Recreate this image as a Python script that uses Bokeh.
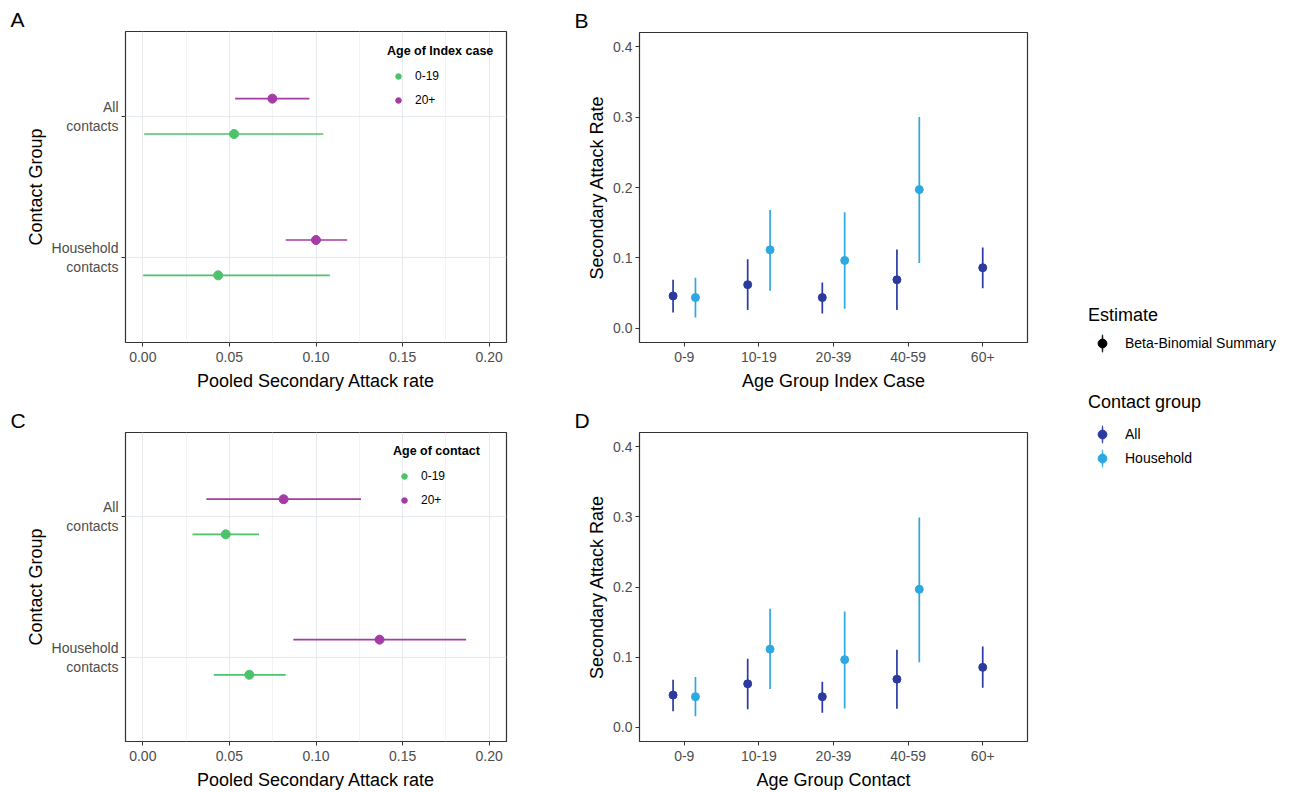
from bokeh.plotting import figure
from bokeh.models import (FactorRange, Range1d, FixedTicker, NumeralTickFormatter,
                          Legend, LegendItem, ColumnDataSource)
from bokeh.layouts import row, column
from bokeh.transform import dodge
from bokeh.embed import file_html
from bokeh.resources import INLINE

# ---------------- data ----------------
contact_groups = ["Household\ncontacts", "All\ncontacts"]          # bottom -> top

# Panel A: pooled SAR by age of index case (order: Household, All)
a_young_mid = [0.0435, 0.0527]
a_young_lo = [0.0002, 0.0008]
a_young_hi = [0.1080, 0.1042]
a_old_mid = [0.1000, 0.0748]
a_old_lo = [0.0825, 0.0533]
a_old_hi = [0.1180, 0.0962]

# Panel C: pooled SAR by age of contact (order: Household, All)
c_young_mid = [0.0615, 0.0479]
c_young_lo = [0.0410, 0.0287]
c_young_hi = [0.0825, 0.0671]
c_old_mid = [0.1367, 0.0813]
c_old_lo = [0.0869, 0.0367]
c_old_hi = [0.1867, 0.1260]

pooled_ticks = [0.0, 0.05, 0.10, 0.15, 0.20]
pooled_minor = [0.025, 0.075, 0.125, 0.175]

# Panels B / D
age_groups = ["0-9", "10-19", "20-39", "40-59", "60+"]
hh_groups = ["0-9", "10-19", "20-39", "40-59"]

b_all_mid = [0.0461, 0.0621, 0.0438, 0.0690, 0.0861]
b_all_lo = [0.0226, 0.0260, 0.0210, 0.0260, 0.0570]
b_all_hi = [0.0690, 0.0980, 0.0650, 0.1120, 0.1150]
b_hh_mid = [0.0438, 0.1115, 0.0965, 0.1970]
b_hh_lo = [0.0155, 0.0536, 0.0280, 0.0927]
b_hh_hi = [0.0720, 0.1680, 0.1650, 0.3000]

d_all_mid = [0.0461, 0.0621, 0.0438, 0.0687, 0.0856]
d_all_lo = [0.0230, 0.0260, 0.0210, 0.0268, 0.0565]
d_all_hi = [0.0680, 0.0980, 0.0650, 0.1106, 0.1153]
d_hh_mid = [0.0438, 0.1115, 0.0965, 0.1967]
d_hh_lo = [0.0160, 0.0546, 0.0270, 0.0927]
d_hh_hi = [0.0720, 0.1690, 0.1650, 0.2988]

sar_ticks = [0.0, 0.1, 0.2, 0.3, 0.4]

# ---------------- style ----------------
FONT = "Liberation Sans"
GREEN = "#4cc36a"
PURPLE = "#a53ca6"
DARK = "#2b3a9f"
LIGHT = "#2ea8e0"
TICKCOL = "#4d4d4d"
FRAME = "#333333"


def style_axis(ax, label, horizontal):
    ax.axis_label = label
    ax.axis_label_text_font = FONT
    ax.axis_label_text_font_size = "18px"
    ax.axis_label_text_font_style = "normal"
    ax.axis_label_text_color = "black"
    ax.axis_label_standoff = 6 if horizontal else 3
    ax.major_label_text_font = FONT
    ax.major_label_text_font_size = "14px"
    ax.major_label_text_color = TICKCOL
    ax.major_label_standoff = 5 if horizontal else 3
    ax.major_tick_in = 0
    ax.major_tick_out = 4
    ax.major_tick_line_color = FRAME
    ax.major_tick_line_width = 1
    ax.minor_tick_line_color = None
    ax.axis_line_color = None


def panel_letter(p, text, offset):
    p.title.text = text
    p.title.text_font = FONT
    p.title.text_font_size = "21px"
    p.title.text_font_style = "normal"
    p.title.text_color = "black"
    p.title.align = "left"
    p.title.offset = offset
    p.title.standoff = 2


def pooled_panel(height, top, bottom, ymid, ylo, yhi, omid, olo, ohi):
    p = figure(width=560, height=height, x_range=Range1d(-0.01, 0.21),
               y_range=FactorRange(factors=contact_groups, range_padding=0.1),
               output_backend="svg", toolbar_location=None,
               min_border_left=125, min_border_right=54,
               min_border_top=top, min_border_bottom=bottom)
    p.outline_line_color = FRAME
    p.outline_line_width = 1.2
    p.xgrid.grid_line_color = "#e6eaed"
    p.xgrid.minor_grid_line_color = "#f1f3f5"
    p.ygrid.grid_line_color = "#e6eaed"
    p.xaxis.ticker = FixedTicker(ticks=pooled_ticks, minor_ticks=pooled_minor)
    p.xaxis.formatter = NumeralTickFormatter(format="0.00")
    style_axis(p.xaxis[0], "Pooled Secondary Attack rate", True)
    style_axis(p.yaxis[0], "Contact Group", False)

    src_y = ColumnDataSource(dict(group=contact_groups, mid=ymid, lo=ylo, hi=yhi))
    src_o = ColumnDataSource(dict(group=contact_groups, mid=omid, lo=olo, hi=ohi))
    yy = dodge("group", -0.125, range=p.y_range)
    yo = dodge("group", 0.125, range=p.y_range)
    p.segment(x0="lo", x1="hi", y0=yy, y1=yy, source=src_y, line_color=GREEN, line_width=1.7)
    ry = p.scatter(x="mid", y=yy, source=src_y, size=9, color=GREEN)
    p.segment(x0="lo", x1="hi", y0=yo, y1=yo, source=src_o, line_color=PURPLE, line_width=1.7)
    ro = p.scatter(x="mid", y=yo, source=src_o, size=9, color=PURPLE)
    return p, ry, ro


def inner_legend(p, ry, ro, title, loc):
    lg = Legend(items=[LegendItem(label="0-19", renderers=[ry]),
                       LegendItem(label="20+", renderers=[ro])],
                title=title, location=loc, orientation="vertical")
    lg.title_text_font = FONT
    lg.title_text_font_style = "bold"
    lg.title_text_font_size = "12.5px"
    lg.title_text_color = "black"
    lg.title_standoff = 8
    lg.label_text_font = FONT
    lg.label_text_font_size = "12px"
    lg.label_text_color = "black"
    lg.glyph_width = 22
    lg.glyph_height = 14
    lg.label_height = 20
    lg.label_standoff = 6
    lg.spacing = 4
    lg.padding = 0
    lg.margin = 0
    lg.background_fill_alpha = 0
    lg.border_line_color = None
    p.add_layout(lg)


pa, ra_y, ra_o = pooled_panel(400, 31, 58, a_young_mid, a_young_lo, a_young_hi,
                              a_old_mid, a_old_lo, a_old_hi)
inner_legend(pa, ra_y, ra_o, "Age of Index case", (262, 232))
panel_letter(pa, "A", -115)

pc, rc_y, rc_o = pooled_panel(392, 32, 50, c_young_mid, c_young_lo, c_young_hi,
                              c_old_mid, c_old_lo, c_old_hi)
inner_legend(pc, rc_y, rc_o, "Age of contact", (268, 231))
panel_letter(pc, "C", -115)


def sar_panel(height, top, bottom, amid, alo, ahi, hmid, hlo, hhi, xlabel):
    p = figure(width=525, height=height,
               x_range=FactorRange(factors=age_groups, range_padding=0.04),
               y_range=Range1d(-0.02, 0.42),
               output_backend="svg", toolbar_location=None,
               min_border_left=79, min_border_right=58,
               min_border_top=top, min_border_bottom=bottom)
    p.outline_line_color = FRAME
    p.outline_line_width = 1.2
    p.xgrid.grid_line_color = None
    p.ygrid.grid_line_color = None
    p.yaxis.ticker = FixedTicker(ticks=sar_ticks)
    p.yaxis.formatter = NumeralTickFormatter(format="0.0")
    style_axis(p.xaxis[0], xlabel, True)
    style_axis(p.yaxis[0], "Secondary Attack Rate", False)

    all_x = [(g, -0.15) if g in hh_groups else (g, 0.0) for g in age_groups]
    hh_x = [(g, 0.15) for g in hh_groups]
    src_a = ColumnDataSource(dict(x=all_x, mid=amid, lo=alo, hi=ahi))
    src_h = ColumnDataSource(dict(x=hh_x, mid=hmid, lo=hlo, hi=hhi))
    p.segment(x0="x", x1="x", y0="lo", y1="hi", source=src_a, line_color=DARK, line_width=1.7)
    p.scatter(x="x", y="mid", source=src_a, size=8, color=DARK)
    p.segment(x0="x", x1="x", y0="lo", y1="hi", source=src_h, line_color=LIGHT, line_width=1.7)
    p.scatter(x="x", y="mid", source=src_h, size=8, color=LIGHT)
    return p, src_a, src_h


pb, srcb_a, srcb_h = sar_panel(400, 32, 58, b_all_mid, b_all_lo, b_all_hi,
                               b_hh_mid, b_hh_lo, b_hh_hi, "Age Group Index Case")
panel_letter(pb, "B", -65)
pd_, srcd_a, srcd_h = sar_panel(392, 32, 50, d_all_mid, d_all_lo, d_all_hi,
                                d_hh_mid, d_hh_lo, d_hh_hi, "Age Group Contact")
panel_letter(pd_, "D", -65)

# ---------------- shared legend panel ----------------
# The key glyphs share the data of panel B; the panel's ranges keep them out of view,
# so only their legend swatches (a thin vertical range bar plus a dot) are drawn.
pl = figure(width=208, height=792, x_range=Range1d(2, 3), y_range=Range1d(2, 3),
            x_axis_type=None, y_axis_type=None, output_backend="svg",
            toolbar_location=None, min_border=0)
pl.outline_line_color = None
pl.grid.visible = False


def proxy(src, color):
    ln = pl.ellipse(x="mid", y="mid", width=1.1, height=20, width_units="screen",
                    height_units="screen", source=src, fill_color=color,
                    line_color=color, line_width=0.7)
    dt = pl.scatter(x="mid", y="mid", source=src, marker="circle", size=8, color=color)
    return ln, dt


est_line, est_dot = proxy(srcb_a, "black")
all_line, all_dot = proxy(srcb_a, DARK)
hh_line, hh_dot = proxy(srcb_h, LIGHT)


def side_legend(items, title, loc, standoff):
    lg = Legend(items=items, title=title, location=loc)
    lg.title_text_font = FONT
    lg.title_text_font_style = "normal"
    lg.title_text_font_size = "18px"
    lg.title_text_color = "black"
    lg.title_standoff = standoff
    lg.label_text_font = FONT
    lg.label_text_font_size = "14px"
    lg.label_text_color = "black"
    lg.glyph_width = 28
    lg.glyph_height = 22
    lg.label_height = 20
    lg.label_standoff = 9
    lg.spacing = 2
    lg.padding = 0
    lg.margin = 0
    lg.background_fill_alpha = 0
    lg.border_line_color = None
    pl.add_layout(lg)


side_legend([LegendItem(label="Beta-Binomial Summary", renderers=[est_line, est_dot])],
            "Estimate", (3, 438), 6)
side_legend([LegendItem(label="All", renderers=[all_line, all_dot]),
             LegendItem(label="Household", renderers=[hh_line, hh_dot])],
            "Contact group", (3, 323), 10)

layout = row(column(pa, pc), column(pb, pd_), pl)

open("out.html", "w").write(file_html(layout, INLINE))
